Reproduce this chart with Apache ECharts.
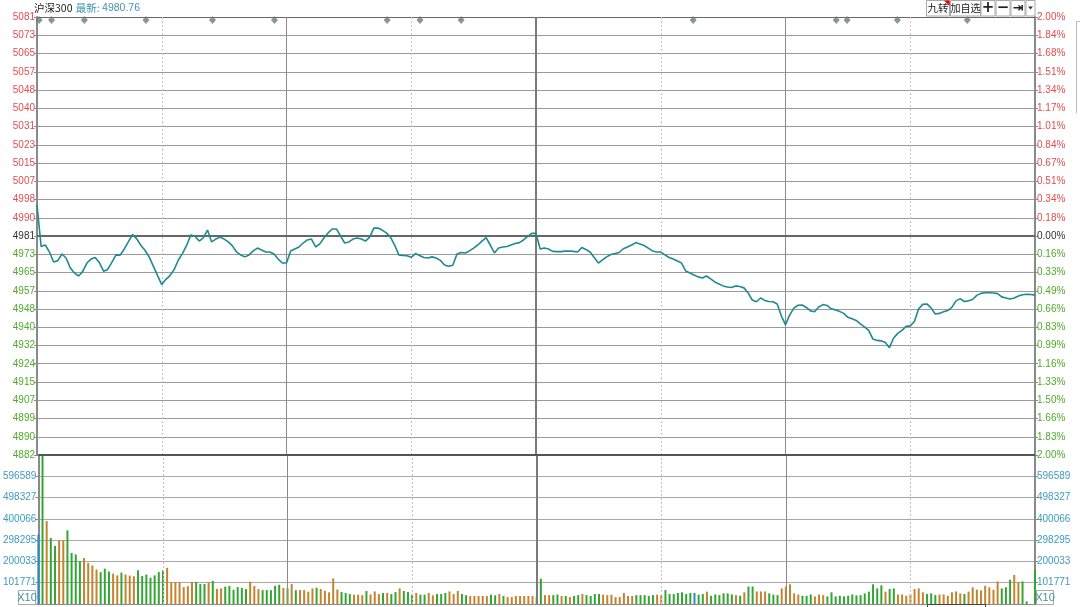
<!DOCTYPE html>
<html><head><meta charset="utf-8">
<script src="https://cdn.jsdelivr.net/npm/echarts@6/dist/echarts.min.js"></script>
<style>html,body{margin:0;padding:0;background:#fff}#c{width:1080px;height:607px}</style>
</head><body><div id="c"></div>
<script>
// ---------- data ----------
const basePrice = 4981.3;
const titleText = '沪深300';
const lastLabel = '最新';
const lastValue = '4980.76';
const priceTickLabels = ['4882','4890','4899','4907','4915','4924','4932','4940','4948','4957','4965','4973','4981','4990','4998','5007','5015','5023','5031','5040','5048','5057','5065','5073','5081'];
const pctTickLabels = ['2.00%','1.83%','1.66%','1.50%','1.33%','1.16%','0.99%','0.83%','0.66%','0.49%','0.33%','0.16%','0.00%','0.18%','0.34%','0.51%','0.67%','0.84%','1.01%','1.17%','1.34%','1.51%','1.68%','1.84%','2.00%'];
const volTickLabels = ['', '101771','200033','298295','400066','498327','596589',''];
const volUnit = 98262;

const prices = [
4995.4,4976.5,4977.2,4974.0,4969.5,4970.1,4973.1,4971.3,4966.8,4964.5,
4963.1,4965.2,4969.0,4970.8,4971.5,4969.2,4965.3,4966.1,4969.3,4972.7,
4972.6,4975.4,4978.7,4982.0,4980.0,4977.0,4974.7,4971.7,4967.5,4963.3,
4959.2,4961.6,4963.3,4966.1,4970.4,4973.4,4977.1,4981.8,4981.2,4979.0,
4980.4,4984.0,4978.6,4979.9,4980.8,4979.9,4978.6,4976.8,4974.0,4972.7,
4971.8,4972.7,4974.5,4975.8,4974.9,4974.0,4974.0,4973.1,4970.8,4969.0,
4969.0,4974.5,4975.4,4976.3,4978.1,4979.5,4979.9,4976.3,4977.7,4980.4,
4982.7,4984.5,4984.5,4981.3,4978.1,4978.6,4979.9,4980.4,4979.9,4979.0,
4980.8,4984.9,4984.9,4984.0,4982.7,4980.8,4977.2,4972.7,4972.4,4972.3,
4971.6,4973.3,4972.4,4971.5,4971.3,4971.8,4971.3,4970.2,4968.1,4967.5,
4968.0,4973.1,4973.8,4973.6,4974.5,4975.8,4977.2,4979.0,4980.6,4977.2,
4973.6,4975.8,4976.3,4976.5,4977.2,4977.9,4978.3,4979.5,4981.1,4982.5,
4982.5,4975.4,4975.8,4975.4,4974.3,4974.2,4974.2,4974.4,4974.5,4974.3,
4974.0,4976.1,4975.2,4974.0,4971.5,4969.0,4970.4,4971.8,4972.9,4973.3,
4973.8,4975.5,4976.3,4977.2,4978.3,4977.7,4977.0,4975.8,4974.5,4974.0,
4974.0,4972.7,4971.5,4970.8,4969.9,4969.0,4965.4,4964.5,4963.6,4962.7,
4962.2,4963.1,4961.8,4960.4,4959.5,4958.6,4958.1,4957.9,4958.6,4958.3,
4957.7,4955.4,4952.2,4951.4,4953.1,4952.0,4951.5,4951.4,4950.4,4945.0,
4940.9,4945.3,4948.5,4949.8,4949.9,4948.8,4947.2,4946.8,4949.0,4950.1,
4949.7,4948.2,4947.7,4947.0,4946.1,4944.3,4943.6,4942.9,4941.3,4940.0,
4938.4,4934.5,4933.8,4933.6,4932.9,4930.5,4934.9,4937.0,4938.4,4940.2,
4940.4,4942.4,4948.1,4950.2,4950.4,4948.6,4945.8,4946.1,4946.8,4947.4,
4948.8,4951.8,4952.8,4951.5,4951.8,4952.4,4954.3,4955.2,4955.5,4955.5,
4955.4,4955.1,4953.6,4953.1,4952.6,4953.1,4954.0,4954.6,4954.8,4954.7,
4954.4
];

const volumes = [
320000,700000,383000,305000,268000,293000,293000,340000,236000,229000,
198000,212000,190000,178000,159000,147000,163000,150000,140000,132000,
145000,136000,131000,128000,156000,129000,136000,121000,132000,147000,
155000,167000,100000,100000,100000,78000,82000,102000,102000,92000,
92000,100000,106000,69000,72000,80000,83000,66000,78000,74000,
69000,103000,83000,69000,64000,64000,64000,84000,89000,74000,
72000,92000,64000,64000,64000,57000,72000,75000,69000,61000,
54000,118000,67000,55000,51000,46000,43000,43000,41000,60000,
44000,
58000,46000,51000,51000,46000,55000,72000,60000,55000,43000,
51000,43000,43000,51000,40000,46000,46000,51000,58000,46000,
60000,46000,41000,37000,37000,37000,37000,37000,43000,40000,
46000,37000,32000,32000,37000,37000,37000,37000,37000,32000,
117000,41000,41000,41000,44000,37000,37000,32000,37000,41000,
46000,41000,37000,46000,46000,43000,41000,43000,32000,32000,
51000,37000,37000,41000,41000,41000,37000,41000,43000,41000,
64000,46000,46000,51000,54000,46000,51000,51000,43000,46000,
57000,38000,44000,41000,49000,49000,44000,41000,38000,54000,
81000,81000,58000,58000,58000,49000,43000,41000,72000,81000,
91000,49000,44000,38000,38000,44000,35000,44000,41000,35000,
54000,35000,38000,35000,38000,44000,40000,41000,49000,57000,
91000,72000,86000,57000,69000,72000,44000,44000,38000,44000,
69000,72000,54000,46000,49000,41000,44000,44000,38000,54000,
58000,49000,46000,57000,77000,66000,63000,84000,77000,66000,
104000,72000,77000,112000,134000,100000,104000,12000,0,158000
];
// b = neutral, g = down tick, o = up tick (one letter per minute)
const volDirs = (
'bgoggooggg'+'goooogggoo'+'gooogggggg'+'gooooooogg'+
'gogooggggg'+'gooogggggo'+'gogoooogoo'+'ooogggooog'+'o'+
'oogoggogg'+'g'+
'oggoogggo'+'o'+
'oggooooog'+'g'+
'ogooooooo'+'g'+
'googgogogg'+
'oggggooooo'+
'ooogggggo'+'o'+
'gggggggbgg'+
'oggggggogo'+'g'+'gooogggoo'+
'ooogggooog'+'gggggggggg'+
'gggoggoooo'+
'ooogggoooo'+
'oogooooooo'+
'ogggooggng'
).split('');

const markerMinutes = [0.5, 3.5, 11.4, 26.2, 42.2, 57.1, 84.2, 92.1, 102, 157.8, 192.2, 194.8, 206.9, 223.7];

// ---------- scales ----------
const pStep = basePrice * 0.02 / 12;
const pMin = basePrice - 12 * pStep;
const pMax = pMin + 24 * pStep;
const priceTicks = priceTickLabels.map((_, k) => pMin + k * pStep);
const volTicks = volTickLabels.map((_, k) => k * volUnit);
const volMax = 7 * volUnit;
const markerLevel = pMax - 0.16 * pStep;

const RED = '#e34d4f', GREEN = '#4fab2a', TEAL = '#3d9cc0', DARK = '#333';
const FONT = 'Liberation Sans, Arial, sans-serif';
const CJK = '"Noto Sans CJK SC", sans-serif';
const pIdx = v => Math.round((v - pMin) / pStep);
const vIdx = v => Math.round(v / volUnit);
const dirColor = {g: '#34a532', o: '#c4832f', b: '#2a8db5', n: '#34a532'};

const vlineData = [
  {xAxis: 30, lineStyle: {type: [2, 2], color: '#c4c4c4', width: 1}},
  {xAxis: 60, lineStyle: {type: 'solid', color: '#8a8a8a', width: 1}},
  {xAxis: 90, lineStyle: {type: [2, 2], color: '#c4c4c4', width: 1}},
  {xAxis: 120, lineStyle: {type: 'solid', color: '#7a7a7a', width: 2}},
  {xAxis: 150, lineStyle: {type: [2, 2], color: '#c4c4c4', width: 1}},
  {xAxis: 180, lineStyle: {type: 'solid', color: '#8a8a8a', width: 1}},
  {xAxis: 210, lineStyle: {type: [2, 2], color: '#c4c4c4', width: 1}}
];

const chart = echarts.init(document.getElementById('c'), null, {renderer: 'canvas'});

function btn(x, w, label, font) {
  return [
    {type: 'rect', shape: {x: x, y: 0.5, width: w, height: 15.5}, style: {fill: '#fff', stroke: '#a8a8a8', lineWidth: 1}, z: 10},
    {type: 'text', x: x + w / 2, y: 8.5, style: {text: label, fill: '#222', font: font, align: 'center', verticalAlign: 'middle'}, z: 11}
  ];
}

function yAxisDef(grid, pos, min, max, ticks, fmt, colorFn, split, splitColor) {
  return {type: 'value', gridIndex: grid, min: min, max: max, position: pos,
    axisLine: {show: true, lineStyle: {color: '#8a8a8a', width: 2}},
    axisTick: {show: true, length: 3, customValues: ticks, lineStyle: {color: '#8a8a8a'}},
    axisLabel: {customValues: ticks, margin: 2, fontSize: 10, fontFamily: FONT, formatter: fmt, color: colorFn},
    splitLine: {show: split, lineStyle: {color: splitColor, width: 1}}};
}
const pColor = v => { const k = pIdx(v); return k > 12 ? RED : (k < 12 ? GREEN : DARK); };

const option = {
  animation: false,
  backgroundColor: '#fff',
  grid: [
    {left: 37, right: 45, top: 17, height: 438},
    {left: 37, right: 45, top: 455, height: 149}
  ],
  xAxis: [
    {type: 'value', gridIndex: 0, min: 0, max: 240, position: 'top',
     axisLine: {show: true, lineStyle: {color: '#666', width: 1}}, axisTick: {show: false}, axisLabel: {show: false}, splitLine: {show: false}},
    {type: 'value', gridIndex: 1, min: 0, max: 240, position: 'bottom',
     axisLine: {show: true, lineStyle: {color: '#8a8a8a', width: 1}}, axisTick: {show: false}, axisLabel: {show: false}, splitLine: {show: false}}
  ],
  yAxis: [
    yAxisDef(0, 'left', pMin, pMax, priceTicks, v => priceTickLabels[pIdx(v)], pColor, true, '#9a9a9a'),
    yAxisDef(0, 'right', pMin, pMax, priceTicks, v => pctTickLabels[pIdx(v)], pColor, false, '#9a9a9a'),
    yAxisDef(1, 'left', 0, volMax, volTicks, v => volTickLabels[vIdx(v)], () => TEAL, true, '#a8a8a8'),
    yAxisDef(1, 'right', 0, volMax, volTicks, v => volTickLabels[vIdx(v)], () => TEAL, false, '#a8a8a8')
  ],
  series: [
    {type: 'line', xAxisIndex: 0, yAxisIndex: 0, data: prices.map((p, i) => [i, p]),
     symbol: 'none', lineStyle: {color: '#1f8a91', width: 1.6}, z: 5,
     markLine: {silent: true, symbol: 'none', label: {show: false}, animation: false,
       data: vlineData.concat([{yAxis: basePrice, lineStyle: {type: 'solid', color: '#666', width: 2}}])}},
    {type: 'scatter', xAxisIndex: 0, yAxisIndex: 0, data: markerMinutes.map(m => [m, markerLevel]),
     symbol: 'diamond', symbolSize: [7, 8], itemStyle: {color: '#6e7a7a'}, z: 6, silent: true},
    {type: 'bar', xAxisIndex: 1, yAxisIndex: 2, barWidth: 2, clip: true,
     data: volumes.map((v, i) => ({value: [i, v], itemStyle: {color: dirColor[volDirs[i]] || '#34a532'}})),
     markLine: {silent: true, symbol: 'none', label: {show: false}, animation: false,
       data: vlineData.concat([{yAxis: volMax, lineStyle: {type: 'solid', color: '#555', width: 2}}])}}
  ],
  graphic: [
    {type: 'text', x: 34, y: 8, style: {
      text: '{t|' + titleText + '} {l|' + lastLabel + ': }{v|' + lastValue + '}',
      rich: {
        t: {fill: '#222', font: '10.5px ' + CJK},
        l: {fill: '#3f95b3', font: '10.5px ' + CJK},
        v: {fill: '#3f95b3', font: '10.5px ' + FONT}
      },
      align: 'left', verticalAlign: 'middle'}},
    ...btn(926.5, 23, '九转', '10.5px ' + CJK),
    {type: 'polygon', shape: {points: [[944, 0.5], [949.5, 0.5], [949.5, 6]]}, style: {fill: '#e60000'}, z: 12},
    ...btn(950.5, 30, '加自选', '10px ' + CJK),
    ...btn(981, 14, '+', 'bold 15px "DejaVu Sans", sans-serif'),
    ...btn(996, 14, '−', 'bold 15px "DejaVu Sans", sans-serif'),
    ...btn(1011, 14, '⇥', 'bold 13px "DejaVu Sans", sans-serif'),
    {type: 'rect', shape: {x: 1026, y: 0.5, width: 9, height: 15.5}, style: {fill: '#fff', stroke: '#a8a8a8', lineWidth: 1}, z: 10},
    {type: 'polygon', shape: {points: [[1028, 6.5], [1033, 6.5], [1030.5, 9.5]]}, style: {fill: '#333'}, z: 11},
    {type: 'rect', shape: {x: 18.5, y: 590.5, width: 17, height: 14}, style: {fill: '#fff', stroke: '#aaa', lineWidth: 1}, z: 10},
    {type: 'text', x: 27, y: 598, style: {text: 'X10', fill: '#4a8fa8', font: '11px ' + FONT, align: 'center', verticalAlign: 'middle'}, z: 11},
    {type: 'rect', shape: {x: 1036.5, y: 590.5, width: 17, height: 14}, style: {fill: '#fff', stroke: '#aaa', lineWidth: 1}, z: 10},
    {type: 'text', x: 1045, y: 598, style: {text: 'X10', fill: '#4a8fa8', font: '11px ' + FONT, align: 'center', verticalAlign: 'middle'}, z: 11},
    {type: 'rect', shape: {x: 927.5, y: 604.5, width: 58, height: 6}, style: {fill: 'none', stroke: '#444', lineWidth: 1}, z: 10},
    {type: 'polyline', shape: {points: [[1080, 21.5], [1076.5, 21.5], [1076.5, 113]]}, style: {stroke: '#bbb', lineWidth: 1}, z: 10}
  ]
};
chart.setOption(option);
</script>
</body></html>
